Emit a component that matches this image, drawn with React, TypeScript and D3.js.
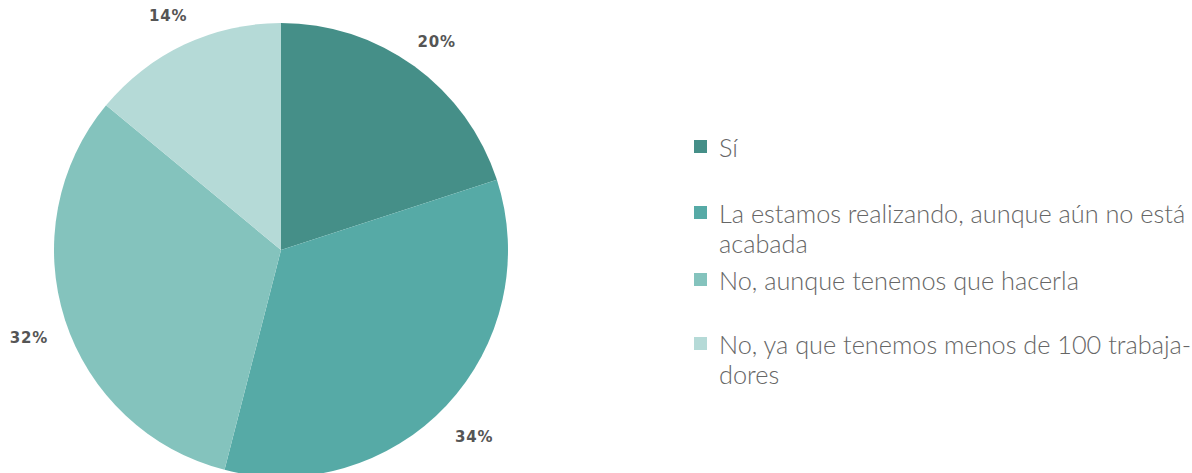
import React from "react";
import * as d3 from "d3";

const categories = [
  "Sí",
  "La estamos realizando, aunque aún no está acabada",
  "No, aunque tenemos que hacerla",
  "No, ya que tenemos menos de 100 trabajadores",
];
const legendLines = [
  ["Sí"],
  ["La estamos realizando, aunque aún no está", "acabada"],
  ["No, aunque tenemos que hacerla"],
  ["No, ya que tenemos menos de 100 trabaja-", "dores"],
];
const values = [20, 34, 32, 14];
const colors = ["#458f88", "#56aaa6", "#84c3bd", "#b5dad7"];

const W = 1192;
const H = 473;
const cx = 281;
const cy = 250;
const R = 227;
const labelR = 265;
const labelDy = 6;

export default function App() {
  const pie = d3
    .pie<number>()
    .sort(null)
    .value((d) => d)(values);
  const arc = d3.arc<d3.PieArcDatum<number>>().innerRadius(0).outerRadius(R);

  const legendX = 694;
  const rowTops = [140, 206, 273, 337];
  const lineH = 30;

  return (
    <svg
      width={W}
      height={H}
      style={{ position: "absolute", left: 0, top: 0, background: "#fff" }}
    >
      <g transform={`translate(${cx},${cy})`}>
        {pie.map((p, i) => (
          <path key={i} d={arc(p) || ""} fill={colors[i]} />
        ))}
        {pie.map((p, i) => {
          const a = (p.startAngle + p.endAngle) / 2;
          const x = labelR * Math.sin(a);
          const y = -labelR * Math.cos(a) + labelDy;
          return (
            <text
              key={"l" + i}
              x={x}
              y={y}
              textAnchor="middle"
              dominantBaseline="central"
              fontFamily="DejaVu Sans"
              fontWeight="bold"
              fontSize={15}
              letterSpacing={0.8}
              fill="#555"
            >
              {`${values[i]}%`}
            </text>
          );
        })}
      </g>
      <g>
        {categories.map((c, i) => (
          <g key={c}>
            <rect
              x={legendX}
              y={rowTops[i]}
              width={13}
              height={13}
              fill={colors[i]}
            />
            <text
              x={legendX + 25}
              y={rowTops[i] + 17}
              fontFamily="Lato"
              fontWeight={300}
              fontSize={25.3}
              fill="#666"
            >
              {legendLines[i].map((ln, j) => (
                <tspan key={j} x={legendX + 25} dy={j === 0 ? 0 : lineH}>
                  {ln}
                </tspan>
              ))}
            </text>
          </g>
        ))}
      </g>
    </svg>
  );
}
